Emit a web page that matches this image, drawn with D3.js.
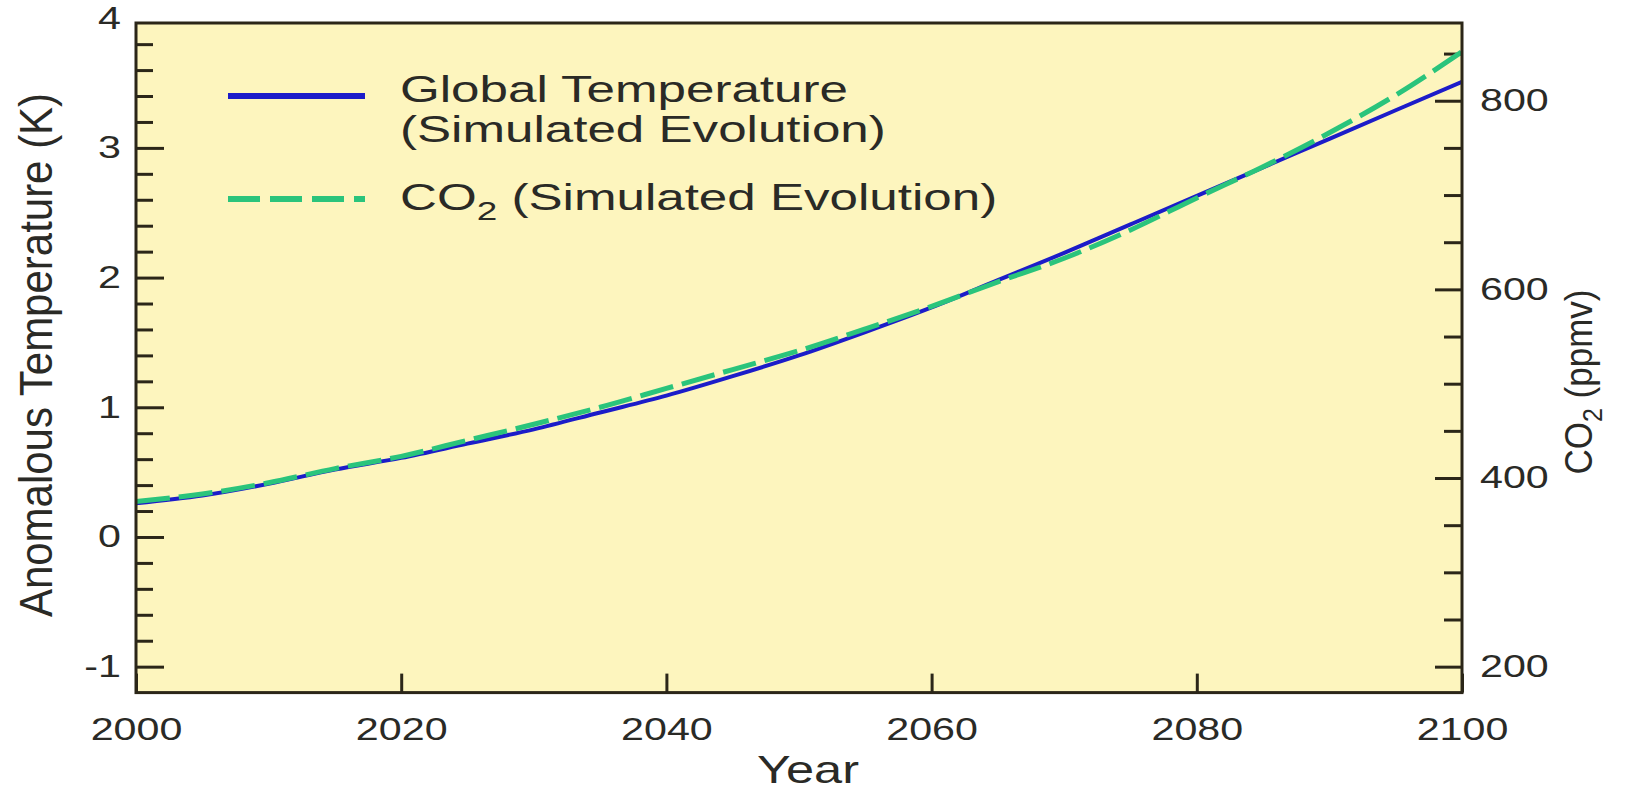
<!DOCTYPE html>
<html>
<head>
<meta charset="utf-8">
<script src="https://cdn.jsdelivr.net/npm/d3@7"></script>
<style>
  html, body { margin: 0; padding: 0; background: #ffffff; }
  svg { display: block; font-family: "Liberation Sans", Arial, Helvetica, sans-serif; }
</style>
</head>
<body>
<svg id="chart" width="1636" height="791"></svg>
<script>
// Simulated evolution, 2000-2100
const years = [2000, 2005, 2010, 2015, 2020, 2025, 2030, 2035, 2040, 2045, 2050,
               2055, 2060, 2065, 2070, 2075, 2080, 2085, 2090, 2095, 2100];
const temperature = [0.26, 0.32, 0.41, 0.52, 0.61, 0.72, 0.83, 0.96, 1.09, 1.24, 1.40,
                     1.58, 1.77, 1.98, 2.19, 2.41, 2.63, 2.85, 3.07, 3.29, 3.51];
const co2 = [375, 383, 395, 410, 423, 440, 457, 475, 495, 515, 535,
             558, 582, 608, 633, 663, 697, 730, 766, 806, 852];

const yearTicks = [2000, 2020, 2040, 2060, 2080, 2100];
const tempTicks = [-1, 0, 1, 2, 3, 4];
const co2Ticks = [200, 400, 600, 800];

const tempDomain = [-1.2, 4];
const co2Domain = [172.5, 887.5];

// layout
const plot = { left: 136, right: 1462, top: 23, bottom: 692.6 };
const scaleTop = 18.2;          // pixel position of the top of both value domains
const SX = 1.33;                // horizontal widening of the tick lettering
const SX_LEGEND = 1.42;
const ink = "#2a2a26";
const frameColor = "#2b2618";
const blue = "#1c1cc9";
const green = "#2ac47c";

const svg = d3.select("#chart");

const x = d3.scaleLinear().domain([2000, 2100]).range([plot.left, plot.right]);
const yT = d3.scaleLinear().domain(tempDomain).range([plot.bottom, scaleTop]);
const yC = d3.scaleLinear().domain(co2Domain).range([plot.bottom, scaleTop]);

// plot background
svg.append("rect")
  .attr("x", plot.left).attr("y", plot.top)
  .attr("width", plot.right - plot.left).attr("height", plot.bottom - plot.top)
  .attr("fill", "#fdf5be");

svg.append("clipPath").attr("id", "plot-clip")
  .append("rect")
  .attr("x", plot.left).attr("y", plot.top)
  .attr("width", plot.right - plot.left).attr("height", plot.bottom - plot.top);

function styleAxis(g, fontSize) {
  g.select(".domain").remove();
  g.selectAll(".tick line").attr("stroke", frameColor).attr("stroke-width", 3);
  g.selectAll(".tick text")
    .attr("fill", ink)
    .attr("font-size", fontSize)
    .attr("font-family", "\"Liberation Sans\", Arial, sans-serif")
    .attr("transform", `scale(${SX},1)`);
}

const isMajor = (v, step) => Math.abs(v / step - Math.round(v / step)) < 1e-6;

// left axis (temperature)
const tempMinor = d3.range(-1, 3.81, 0.2).filter(v => !isMajor(v, 1));
svg.append("g").attr("transform", `translate(${plot.left},0)`)
  .call(d3.axisLeft(yT).tickValues(tempMinor).tickSize(-17).tickFormat(""))
  .call(g => styleAxis(g, 31));
svg.append("g").attr("transform", `translate(${plot.left},0)`)
  .call(d3.axisLeft(yT).tickValues(tempTicks).tickSize(-28).tickPadding(15 / SX)
        .tickFormat(d => String(d)))
  .call(g => styleAxis(g, 31))
  .call(g => g.selectAll(".tick").filter(d => yT(d) < plot.top).select("line").remove());

// right axis (CO2)
const co2Minor = d3.range(250, 851, 50).filter(v => !isMajor(v, 200));
svg.append("g").attr("transform", `translate(${plot.right},0)`)
  .call(d3.axisRight(yC).tickValues(co2Minor).tickSize(-18).tickFormat(""))
  .call(g => styleAxis(g, 31));
svg.append("g").attr("transform", `translate(${plot.right},0)`)
  .call(d3.axisRight(yC).tickValues(co2Ticks).tickSize(-27).tickPadding(18 / SX)
        .tickFormat(d => String(d)))
  .call(g => styleAxis(g, 31));

// bottom axis (year)
svg.append("g").attr("transform", `translate(0,${plot.bottom})`)
  .call(d3.axisBottom(x).tickValues(yearTicks).tickSize(-19).tickPadding(25)
        .tickFormat(d => String(d)))
  .call(g => styleAxis(g, 31));

// series
const lines = svg.append("g").attr("clip-path", "url(#plot-clip)");
const tempLine = d3.line().x((d, i) => x(years[i])).y(d => yT(d)).curve(d3.curveMonotoneX);
const co2Line = d3.line().x((d, i) => x(years[i])).y(d => yC(d)).curve(d3.curveMonotoneX);

lines.append("path").datum(temperature)
  .attr("d", tempLine).attr("fill", "none")
  .attr("stroke", blue).attr("stroke-width", 4);
lines.append("path").datum(co2)
  .attr("d", co2Line).attr("fill", "none")
  .attr("stroke", green).attr("stroke-width", 5)
  .attr("stroke-dasharray", "34,9");

// frame
svg.append("rect")
  .attr("x", plot.left).attr("y", plot.top)
  .attr("width", plot.right - plot.left).attr("height", plot.bottom - plot.top)
  .attr("fill", "none").attr("stroke", frameColor).attr("stroke-width", 3);

// widened text helper
function wideText(x0, y0, size, sx, anchor) {
  return svg.append("g").attr("transform", `translate(${x0},${y0}) scale(${sx},1)`)
    .append("text")
    .attr("font-size", size).attr("fill", ink)
    .attr("text-anchor", anchor || "start");
}

// legend
const legend = { x0: 228, x1: 365, tx: 400 };
svg.append("line")
  .attr("x1", legend.x0).attr("x2", legend.x1).attr("y1", 96).attr("y2", 96)
  .attr("stroke", blue).attr("stroke-width", 6);
wideText(legend.tx, 102, 36, SX_LEGEND).text("Global Temperature");
wideText(legend.tx, 142, 36, SX_LEGEND).text("(Simulated Evolution)");

svg.append("line")
  .attr("x1", legend.x0).attr("x2", legend.x1).attr("y1", 199).attr("y2", 199)
  .attr("stroke", green).attr("stroke-width", 6)
  .attr("stroke-dasharray", "32,10");
const co2Legend = wideText(legend.tx, 210, 36, SX_LEGEND);
co2Legend.append("tspan").text("CO");
co2Legend.append("tspan").attr("dy", 10).attr("font-size", 26).text("2");
co2Legend.append("tspan").attr("dy", -10).text(" (Simulated Evolution)");

// axis titles
wideText(808, 783, 38, SX, "middle").text("Year");

svg.append("text")
  .attr("transform", "translate(52,355) rotate(-90) scale(1,1.1)")
  .attr("text-anchor", "middle").attr("font-size", 42).attr("fill", ink)
  .text("Anomalous Temperature (K)");

const co2Title = svg.append("text")
  .attr("transform", "translate(1592,382) rotate(-90) scale(1,1.1)")
  .attr("text-anchor", "middle").attr("font-size", 35).attr("fill", ink);
co2Title.append("tspan").text("CO");
co2Title.append("tspan").attr("dy", 9).attr("font-size", 25).text("2");
co2Title.append("tspan").attr("dy", -9).text(" (ppmv)");
</script>
</body>
</html>
